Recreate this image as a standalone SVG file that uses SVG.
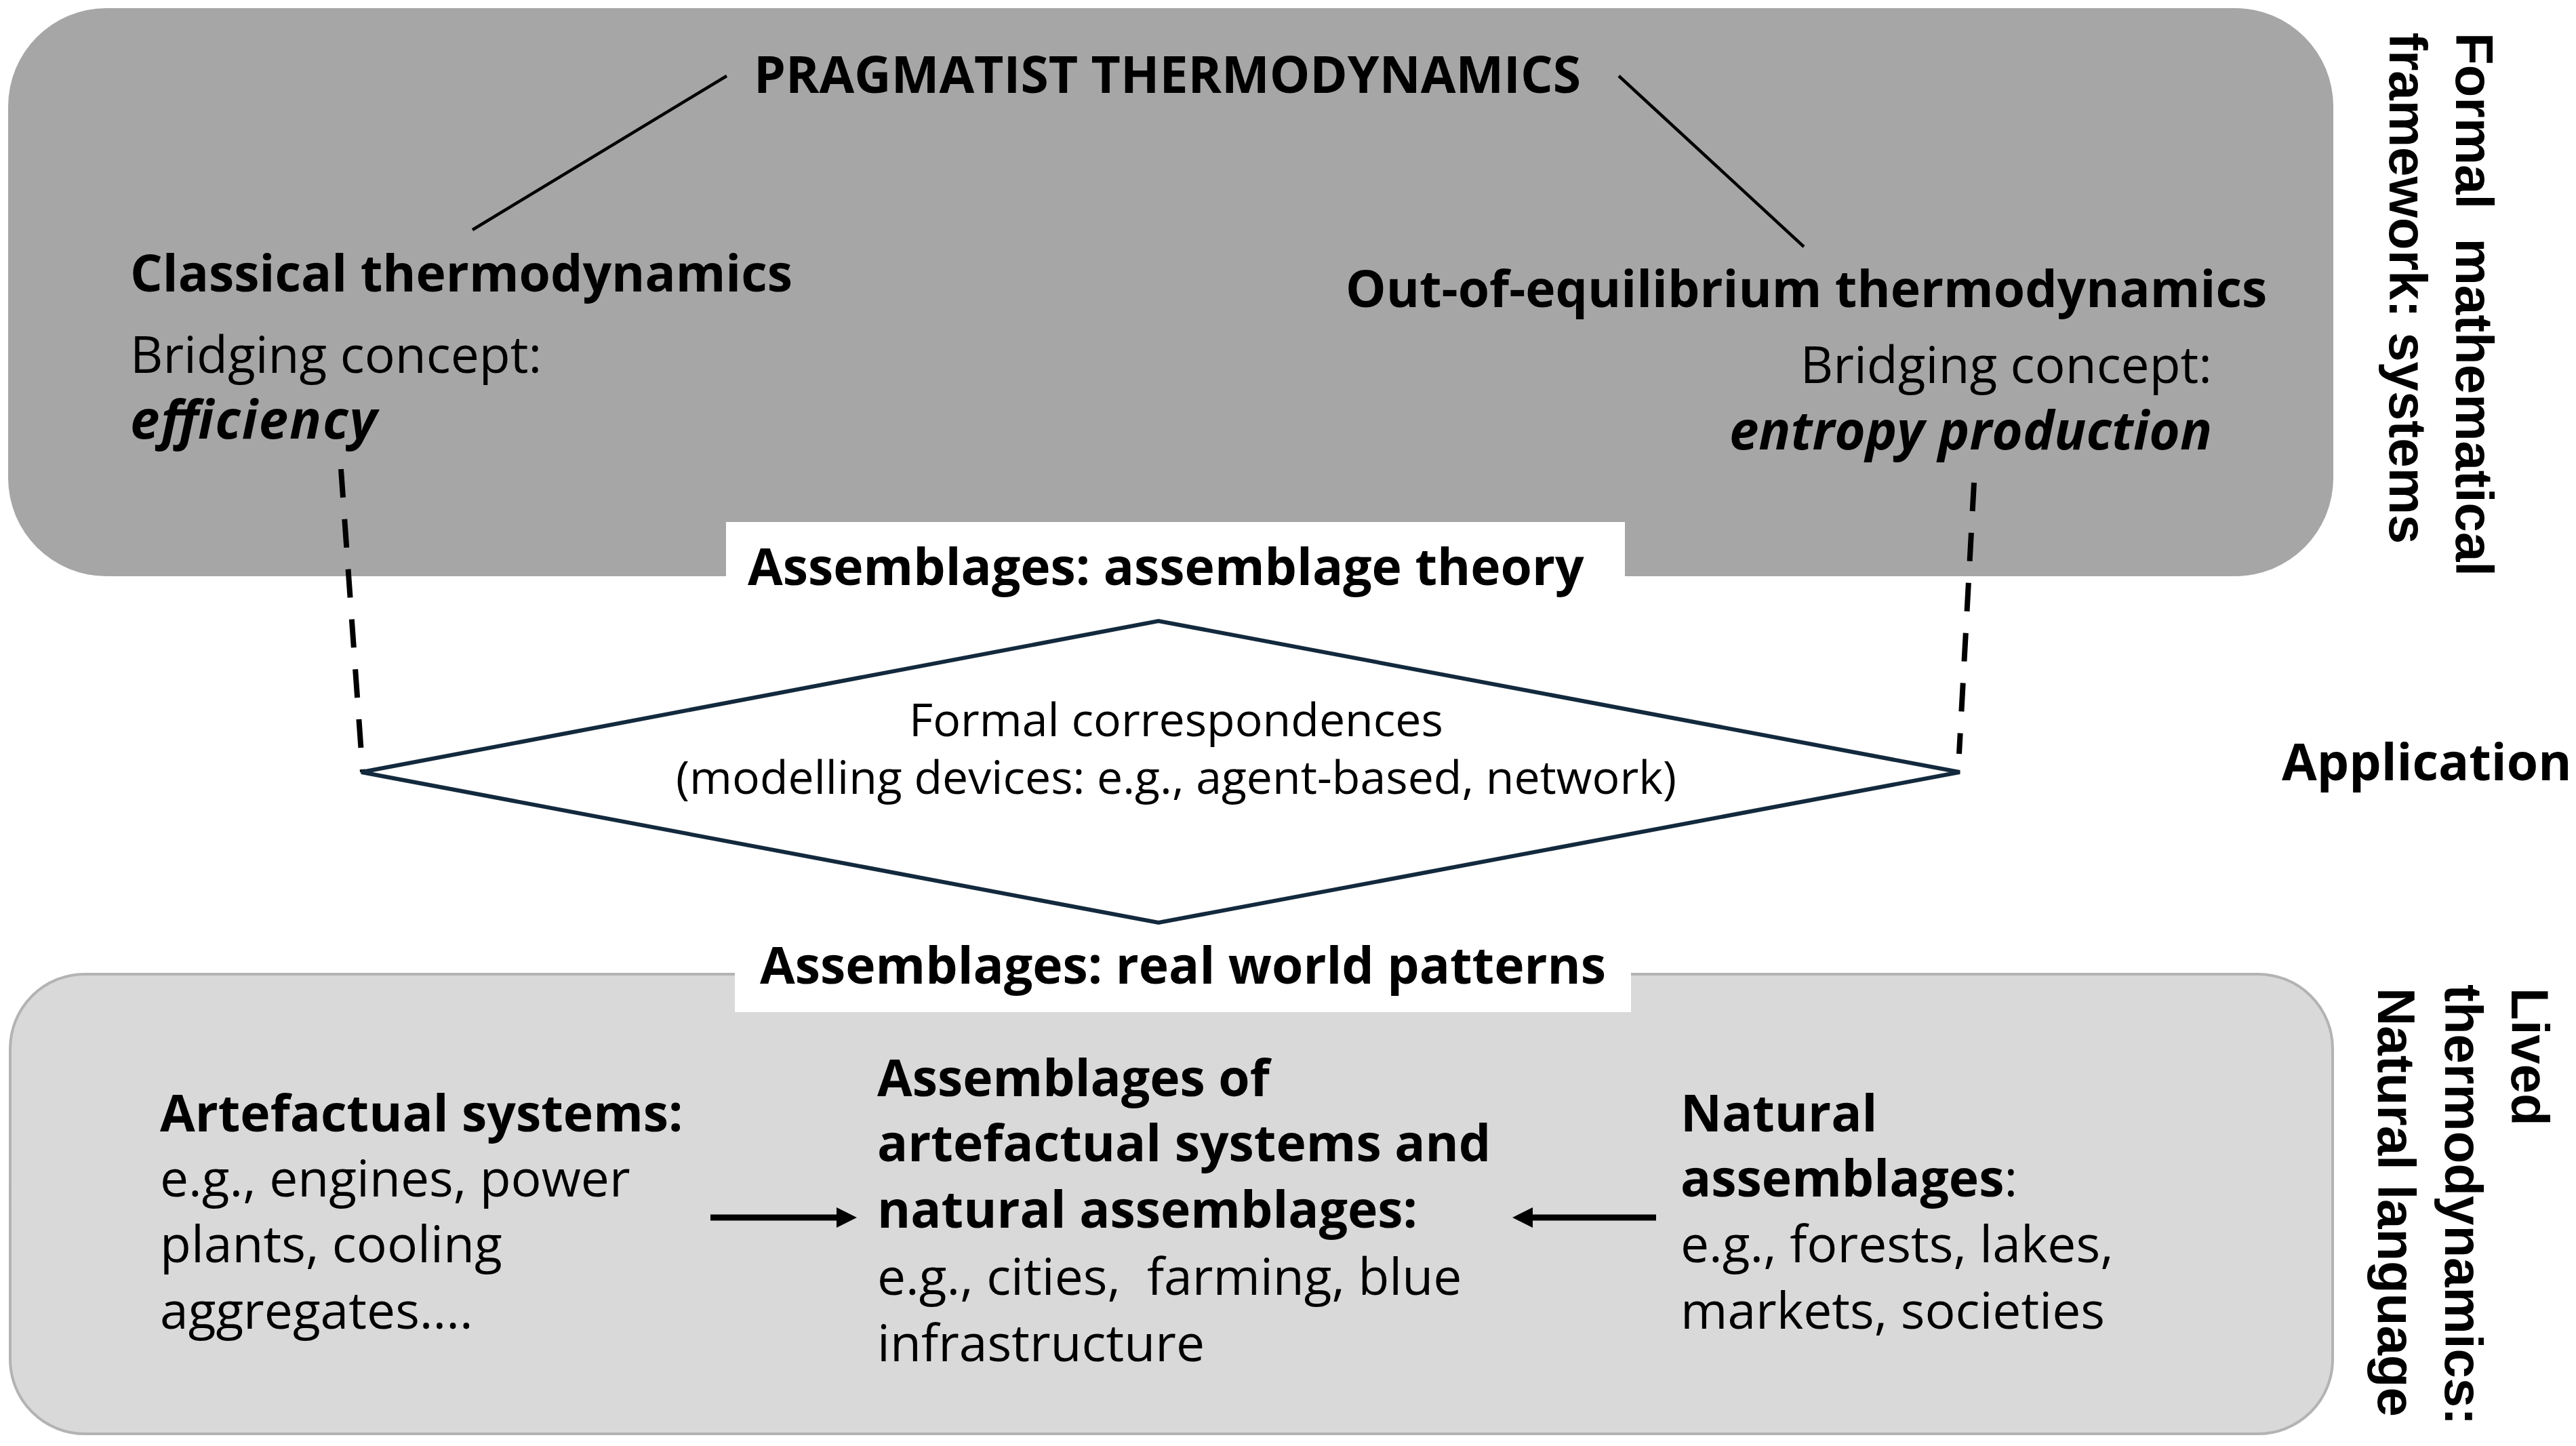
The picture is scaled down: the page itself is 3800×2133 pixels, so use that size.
<svg xmlns="http://www.w3.org/2000/svg" width="3800" height="2133" viewBox="0 0 3800 2133">
<defs>
<style>
.t{font-family:"Open Sans","Noto Sans",sans-serif;fill:#000;}
.r{font-size:75px;font-weight:400;}
.b{font-size:75px;font-weight:700;}
.bi{font-size:78px;font-weight:700;font-style:italic;}
.s{font-size:68px;font-weight:400;}
.v{font-family:"Liberation Sans",Arial,sans-serif;font-size:78px;font-weight:700;fill:#000;white-space:pre;}
.ln{stroke:#000;stroke-width:4.5;fill:none;}
.dash{stroke:#000;stroke-width:8;stroke-dasharray:42 32;fill:none;}
.arr{stroke:#000;stroke-width:9;fill:none;}
</style>
<marker id="ah" viewBox="0 0 30 30" refX="0" refY="15" markerWidth="30" markerHeight="30" markerUnits="userSpaceOnUse" orient="auto">
<path d="M0,0 L30,15 L0,30 z" fill="#000"/>
</marker>
</defs>
<rect width="3800" height="2133" fill="#fff"/>

<g id="formal-panel">
<rect x="12" y="12" width="3430" height="838" rx="145" ry="145" fill="#a6a6a6"/>
</g>
<g id="lived-panel">
<rect x="15" y="1437" width="3426" height="678" rx="110" ry="110" fill="#d9d9d9" stroke="#b3b3b3" stroke-width="4"/>
</g>

<g id="connectors">
<line class="ln" x1="1072" y1="112" x2="697" y2="339"/>
<line class="ln" x1="2388" y1="112" x2="2661" y2="364"/>
<line class="dash" x1="503" y1="692" x2="535" y2="1139"/>
<line class="dash" x1="2912" y1="712" x2="2890" y2="1112"/>
<line class="arr" x1="1048" y1="1796" x2="1234" y2="1796" marker-end="url(#ah)"/>
<line class="arr" x1="2443" y1="1796" x2="2261" y2="1796" marker-end="url(#ah)"/>
</g>

<g id="pragmatist">
<text class="t b" x="1112" y="137">PRAGMATIST THERMODYNAMICS</text>
</g>
<g id="classical">
<text class="t b" x="192" y="430">Classical thermodynamics</text>
<text class="t r" x="192" y="550">Bridging concept:</text>
<text class="t bi" x="192" y="647" textLength="364" lengthAdjust="spacing">efficiency</text>
</g>
<g id="out-of-equilibrium">
<text class="t b" x="1985" y="453">Out-of-equilibrium thermodynamics</text>
<text class="t r" x="3263" y="565" text-anchor="end">Bridging concept:</text>
<text class="t bi" x="3263" y="663" text-anchor="end">entropy production</text>
</g>
<g id="assemblage-theory">
<rect x="1071" y="770" width="1326" height="110" fill="#fff"/>
<text class="t b" x="1103" y="863">Assemblages: assemblage theory</text>
</g>
<g id="formal-correspondences">
<polygon points="533,1139 1709,916 2891,1139 1709,1361" fill="#fff" stroke="#13293d" stroke-width="6" stroke-linejoin="miter"/>
<text class="t s" x="1735" y="1086" text-anchor="middle">Formal correspondences</text>
<text class="t s" x="1735" y="1171" text-anchor="middle">(modelling devices: e.g., agent-based, network)</text>
</g>
<g id="real-world-patterns">
<rect x="1084" y="1390" width="1322" height="103" fill="#fff"/>
<text class="t b" x="1121" y="1451">Assemblages: real world patterns</text>
</g>
<g id="artefactual">
<text class="t b" x="236" y="1669">Artefactual systems:</text>
<text class="t r" x="236" y="1765">e.g., engines, power</text>
<text class="t r" x="236" y="1862">plants, cooling</text>
<text class="t r" x="236" y="1960">aggregates....</text>
</g>
<g id="assemblages-mixed">
<text class="t b" x="1294" y="1617">Assemblages of</text>
<text class="t b" x="1294" y="1713">artefactual systems and</text>
<text class="t b" x="1294" y="1811">natural assemblages:</text>
<text class="t r" x="1294" y="1910" style="white-space:pre">e.g., cities,  farming, blue</text>
<text class="t r" x="1294" y="2008">infrastructure</text>
</g>
<g id="natural">
<text class="t b" x="2479" y="1669">Natural</text>
<text class="t b" x="2479" y="1765">assemblages<tspan font-weight="400">:</tspan></text>
<text class="t r" x="2479" y="1862">e.g., forests, lakes,</text>
<text class="t r" x="2479" y="1960">markets, societies</text>
</g>
<g id="application">
<text class="t b" x="3366" y="1151">Application</text>
</g>
<g id="label-formal">
<text class="v" transform="translate(3623,48) rotate(90)">Formal  mathematical</text>
<text class="v" transform="translate(3525,48) rotate(90)">framework: systems</text>
</g>
<g id="label-lived">
<text class="v" transform="translate(3705,1457) rotate(90)">Lived</text>
<text class="v" transform="translate(3607,1452) rotate(90)">thermodynamics:</text>
<text class="v" transform="translate(3508,1457) rotate(90)">Natural language</text>
</g>
</svg>
